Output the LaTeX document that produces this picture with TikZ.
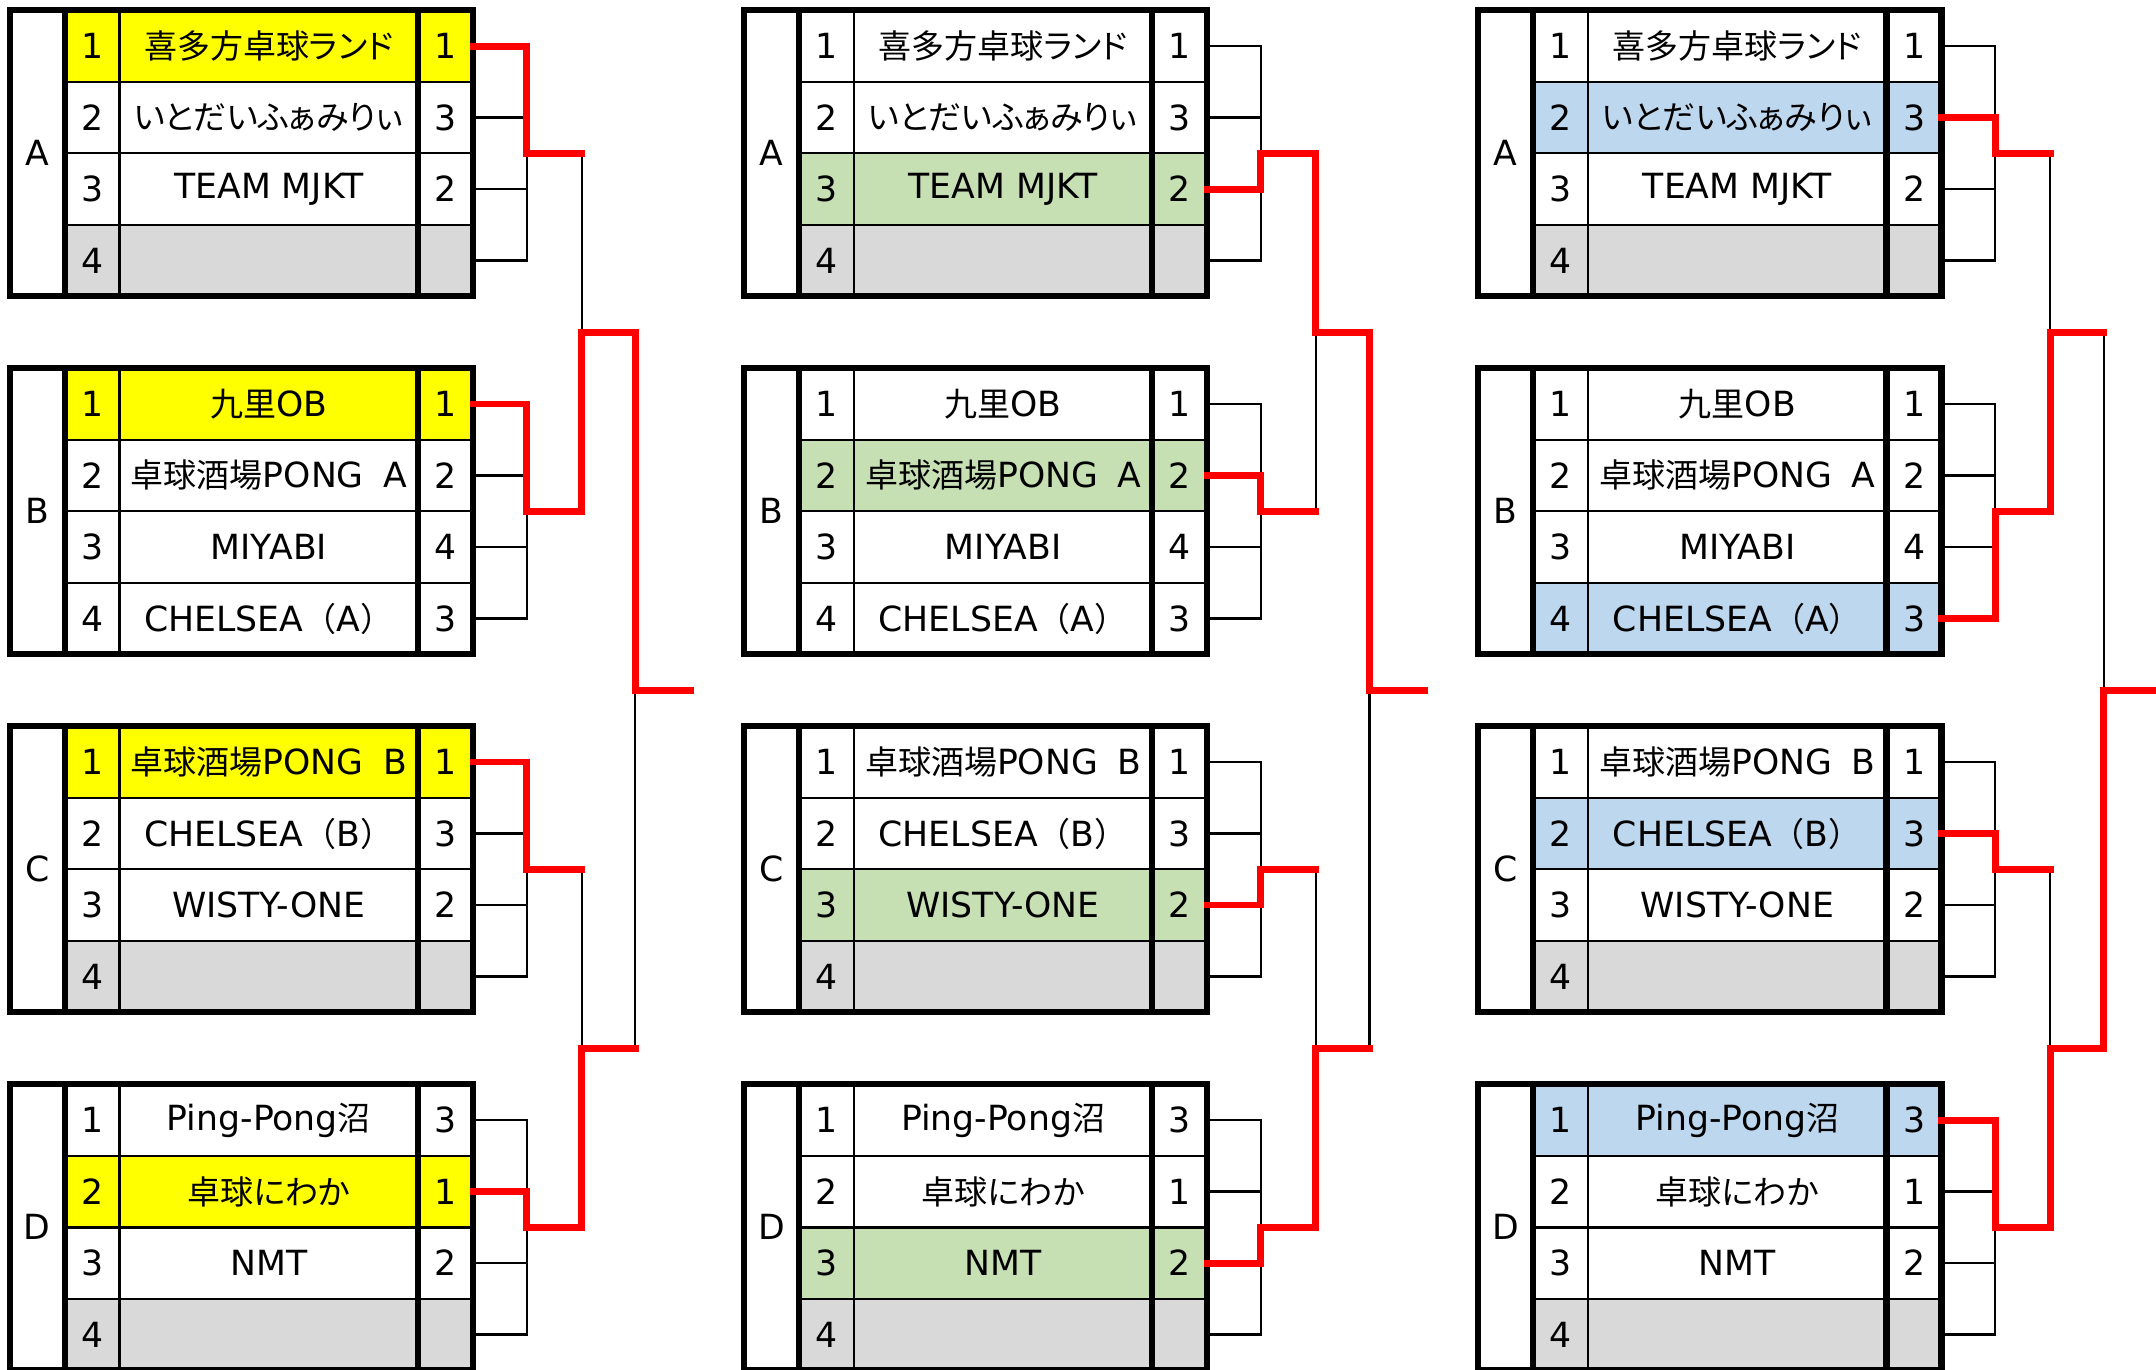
\documentclass[tikz,border=0pt]{standalone}
\usepackage{fontspec}
\setmainfont{DejaVu Sans}[Scale=1.05]
\newfontfamily\jp[RawFeature=+palt]{Noto Sans CJK JP}
\newfontfamily\jpw{Noto Sans CJK JP}
\newcommand{\gap}{{\jpw\fontsize{14}{14}\selectfont 　}}

\definecolor{cellgray}{HTML}{D9D9D9}
\definecolor{winyellow}{HTML}{FFFF00}
\definecolor{wingreen}{HTML}{C6E0B4}
\definecolor{winblue}{HTML}{BDD7EE}
\definecolor{winred}{HTML}{FF0000}

% rows of each group: place / team / score / fill
\newcommand{\rowsA}{1/{{\jp 喜多方卓球ランド}}/1/white, 2/{{\jp いとだいふぁみりぃ}}/3/white, 3/TEAM MJKT/2/white, 4/{}/{}/cellgray}
\newcommand{\rowsB}{1/{{\jp 九里}OB}/1/white, 2/{{\jp 卓球酒場}PONG\gap A}/2/white, 3/MIYABI/4/white, 4/{CHELSEA{\jpw （}A{\jpw ）}}/3/white}
\newcommand{\rowsC}{1/{{\jp 卓球酒場}PONG\gap B}/1/white, 2/{CHELSEA{\jpw （}B{\jpw ）}}/3/white, 3/WISTY-ONE/2/white, 4/{}/{}/cellgray}
\newcommand{\rowsD}{1/{Ping-Pong{\jp 沼}}/3/white, 2/{{\jp 卓球にわか}}/1/white, 3/NMT/2/white, 4/{}/{}/cellgray}

\begin{document}
\begin{tikzpicture}[x=1pt, y=-1pt,
    every node/.style={font=\fontsize{24}{28}\selectfont},
    cell/.style={draw, line width=1.7pt, inner sep=0pt, outer sep=0pt, minimum height=52pt},
    numcell/.style={cell, minimum width=40pt},
    namecell/.style={cell, minimum width=217pt},
    labcell/.style={fill=white, inner sep=0pt, outer sep=0pt, minimum width=40pt, minimum height=208pt},
    frame/.style={line width=4.5pt},
    bracket/.style={line width=1.6pt},
    win/.style={draw=winred, line width=5pt, line cap=rect}]

    \useasboundingbox (0,0) rectangle (1568,996);

    % Tables and brackets
    \foreach \c/\X/\hl/\wA/\wB/\wC/\wD in {c1/0/winyellow/1/1/1/2, c2/534/wingreen/3/2/3/3, c3/1068/winblue/2/4/2/1} {
        \foreach \g/\Y/\w in {A/7.5/\wA, B/267.8/\wB, C/528.2/\wC, D/788.6/\wD} {
            \expandafter\let\expandafter\rowlist\csname rows\g\endcsname
            \node [labcell] (\c\g) at (\X+27, \Y+104) {\g};
            \coordinate (\c\g j) at (\X+383, \Y+104);
            \foreach \i/\nm/\sc/\fl in \rowlist {
                \ifnum\i=\w\relax \edef\cf{\hl}\else \edef\cf{\fl}\fi
                \pgfmathsetmacro\ry{\Y+52*\i-26}
                \node [numcell, fill=\cf] (\c\g n\i) at (\X+67, \ry) {\i};
                \node [namecell, fill=\cf] (\c\g t\i) at (\X+195.5, \ry) {\nm};
                \node [numcell, fill=\cf] (\c\g s\i) at (\X+324, \ry) {\sc};
                \draw [bracket] (\c\g s\i.east) -| (\c\g j);
            }
            \draw [frame] (\c\g.north west) rectangle (\c\g s4.south east);
            \draw [frame] (\c\g.north east) -- (\c\g.south east);
            \draw [frame] (\c\g t1.north east) -- (\c\g t4.south east);
        }
        \coordinate (\c AB) at (\X+423, 241.7);
        \coordinate (\c CD) at (\X+423, 762.4);
        \coordinate (\c F) at (\X+462, 502);
        \coordinate (\c W) at (\X+502, 502);
        \draw [bracket] (\c Aj) -| (\c AB);
        \draw [bracket] (\c Bj) -| (\c AB);
        \draw [bracket] (\c Cj) -| (\c CD);
        \draw [bracket] (\c Dj) -| (\c CD);
        \draw [bracket] (\c AB) -| (\c F);
        \draw [bracket] (\c CD) -| (\c F);
        \draw [bracket] (\c F) -- (\c W);
    }

    % Winners
    \foreach \c/\wA/\wB/\wC/\wD in {c1/1/1/1/2, c2/3/2/3/3, c3/2/4/2/1}
        \foreach \g/\w in {A/\wA, B/\wB, C/\wC, D/\wD}
            \draw [win] (\c\g s\w.east) -| (\c\g j) -- ++(40,0);

    \draw [win] (c1Bj -| c1AB) -- (c1AB) -| (c1F) -- (c1W);
    \draw [win] (c1Dj -| c1CD) -- (c1CD) -- (c1CD -| c1F);
    \draw [win] (c2Aj -| c2AB) -- (c2AB) -| (c2F) -- (c2W);
    \draw [win] (c2Dj -| c2CD) -- (c2CD) -- (c2CD -| c2F);
    \draw [win] (c3Bj -| c3AB) -- (c3AB) -- (c3AB -| c3F);
    \draw [win] (c3Dj -| c3CD) -- (c3CD) -| (c3F) -- (c3W);

\end{tikzpicture}
\end{document}
